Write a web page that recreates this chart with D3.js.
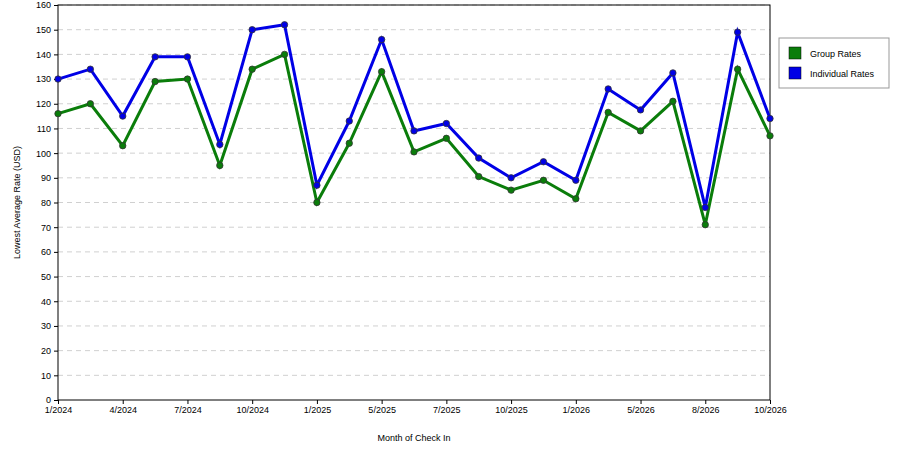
<!DOCTYPE html>
<html><head><meta charset="utf-8">
<script src="https://cdn.jsdelivr.net/npm/d3@7"></script>
<style>body{margin:0;background:#fff}text{font-family:"Liberation Sans",Arial,sans-serif}</style>
</head><body><svg id="c" width="900" height="450"></svg>
<script>
const categories = ["1/2024","2/2024","4/2024","5/2024","7/2024","8/2024","10/2024","11/2024","1/2025","3/2025","5/2025","6/2025","7/2025","9/2025","10/2025","12/2025","1/2026","3/2026","5/2026","6/2026","8/2026","9/2026","10/2026"];
const tickLabels = ["1/2024","4/2024","7/2024","10/2024","1/2025","5/2025","7/2025","10/2025","1/2026","5/2026","8/2026","10/2026"];
const groupRates = [116,120,103,129,130,95,134,140,80,104,133,100.5,106,90.5,85,89,81.5,116.5,109,121,71,134,107];
const individualRates = [130,134,115,139,139,103.5,150,152,87,113,146,109,112,98,90,96.5,89,126,117.5,132.5,78,149,114];
const yTicks = d3.range(0,161,10);

const svg = d3.select("#c");
const L=58,R=770,T=5,B=400;
const x = d3.scalePoint().domain(categories).range([L,R]);
const y = d3.scaleLinear().domain([0,160]).range([B,T]);

svg.append("g").selectAll("line").data(yTicks.slice(1)).join("line")
 .attr("x1",L).attr("x2",R).attr("y1",d=>y(d)).attr("y2",d=>y(d))
 .attr("stroke","#d0d0d0").attr("stroke-dasharray","5,4");
svg.append("rect").attr("x",L).attr("y",T).attr("width",R-L).attr("height",B-T).attr("fill","none").attr("stroke","#000");

const ya = svg.append("g").attr("transform",`translate(${L},0)`).call(d3.axisLeft(y).tickValues(yTicks).tickSize(4));
ya.selectAll("text").style("font-size","9px");
const xa = svg.append("g").attr("transform",`translate(0,${B})`).call(d3.axisBottom(x).tickValues(tickLabels).tickSize(4));
xa.selectAll("text").style("font-size","9px");
svg.selectAll(".domain").remove();

svg.append("text").attr("x",(L+R)/2).attr("y",441).attr("text-anchor","middle").style("font-size","9px").text("Month of Check In");
svg.append("text").attr("transform",`translate(20,${(T+B)/2}) rotate(-90)`).attr("text-anchor","middle").style("font-size","9px").text("Lowest Average Rate (USD)");

const series=[{v:groupRates,c:"#0a7d0a",name:"Group Rates"},{v:individualRates,c:"#0000e6",name:"Individual Rates"}];
const line=d3.line().x((d,i)=>x(categories[i])).y(d=>y(d));
series.forEach(s=>{
 svg.append("path").datum(s.v).attr("d",line).attr("fill","none").attr("stroke",s.c).attr("stroke-width",3);
 svg.append("g").selectAll("circle").data(s.v).join("circle")
  .attr("cx",(d,i)=>x(categories[i])).attr("cy",d=>y(d)).attr("r",3.2)
  .attr("fill",s.c).attr("stroke","#333").attr("stroke-width",0.8);
});

const lg=svg.append("g");
lg.append("rect").attr("x",779).attr("y",38).attr("width",110).attr("height",50).attr("fill","#fff").attr("stroke","#999");
series.forEach((s,i)=>{
 lg.append("rect").attr("x",789).attr("y",47+i*20).attr("width",12).attr("height",12).attr("fill",s.c).attr("stroke","#000").attr("stroke-width",0.5);
 lg.append("text").attr("x",810).attr("y",57+i*20).style("font-size","9px").text(s.name);
});
</script></body></html>
